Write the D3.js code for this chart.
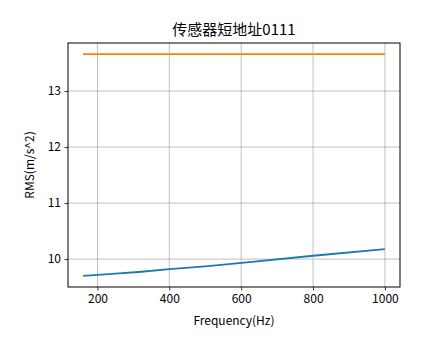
<!DOCTYPE html>
<html><head><meta charset="utf-8">
<script src="https://cdn.jsdelivr.net/npm/d3@7/dist/d3.min.js"></script>
<style>body{margin:0;background:#fff;} text{font-family:"Noto Sans CJK SC",sans-serif;}</style>
</head><body><svg id="c" width="444" height="359"></svg>
<script>
const freqs = [160, 200, 250, 315, 400, 500, 630, 800, 1000];
const rmsBlue = [9.70, 9.72, 9.74, 9.77, 9.82, 9.87, 9.95, 10.06, 10.18];
const rmsOrange = [13.66, 13.66, 13.66, 13.66, 13.66, 13.66, 13.66, 13.66, 13.66];
const xTicks = [200, 400, 600, 800, 1000];
const yTicks = [10, 11, 12, 13];
const title = "传感器短地址0111";
const xLabel = "Frequency(Hz)";
const yLabel = "RMS(m/s^2)";

const svg = d3.select("#c");
const L = 68, R = 400, T = 43, B = 287;
const x = d3.scaleLinear().domain([118, 1042]).range([L, R]);
const yMin = 9.70, yMax = 13.66, pad = (yMax - yMin) * 0.05;
const y = d3.scaleLinear().domain([yMin - pad, yMax + pad]).range([B, T]);

const grid = svg.append("g");
xTicks.forEach(t => grid.append("line").attr("x1", x(t)).attr("x2", x(t)).attr("y1", T).attr("y2", B)
  .attr("stroke", "#b0b0b0").attr("stroke-width", 0.8));
yTicks.forEach(t => grid.append("line").attr("x1", L).attr("x2", R).attr("y1", y(t)).attr("y2", y(t))
  .attr("stroke", "#b0b0b0").attr("stroke-width", 0.8));

const line = d3.line().x((d, i) => x(freqs[i])).y(d => y(d));
svg.append("path").datum(rmsBlue).attr("d", line).attr("fill", "none").attr("stroke", "#1f77b4").attr("stroke-width", 1.8);
svg.append("path").datum(rmsOrange).attr("d", line).attr("fill", "none").attr("stroke", "#ff7f0e").attr("stroke-width", 1.8);

const xa = svg.append("g").attr("transform", `translate(0,${B})`)
  .call(d3.axisBottom(x).tickValues(xTicks).tickSize(3.5).tickPadding(3.5).tickFormat(d3.format("d")));
const ya = svg.append("g").attr("transform", `translate(${L},0)`)
  .call(d3.axisLeft(y).tickValues(yTicks).tickSize(3.5).tickPadding(3.5).tickFormat(d3.format("d")));
[xa, ya].forEach(a => {
  a.select(".domain").remove();
  a.selectAll("line").attr("stroke", "#000").attr("stroke-width", 0.8);
  a.selectAll("text").attr("fill", "#000").style("font-size", "12px").style("font-family", '"Noto Sans CJK SC",sans-serif');
});

svg.append("rect").attr("x", L).attr("y", T).attr("width", R - L).attr("height", B - T)
  .attr("fill", "none").attr("stroke", "#000").attr("stroke-width", 1);

svg.append("text").attr("x", (L + R) / 2).attr("y", 35).attr("text-anchor", "middle")
  .style("font-size", "15px").text(title);
svg.append("text").attr("x", (L + R) / 2).attr("y", 325).attr("text-anchor", "middle")
  .style("font-size", "12px").text(xLabel);
svg.append("text").attr("transform", `translate(34,${(T + B) / 2}) rotate(-90)`).attr("text-anchor", "middle")
  .style("font-size", "12px").text(yLabel);
</script></body></html>
